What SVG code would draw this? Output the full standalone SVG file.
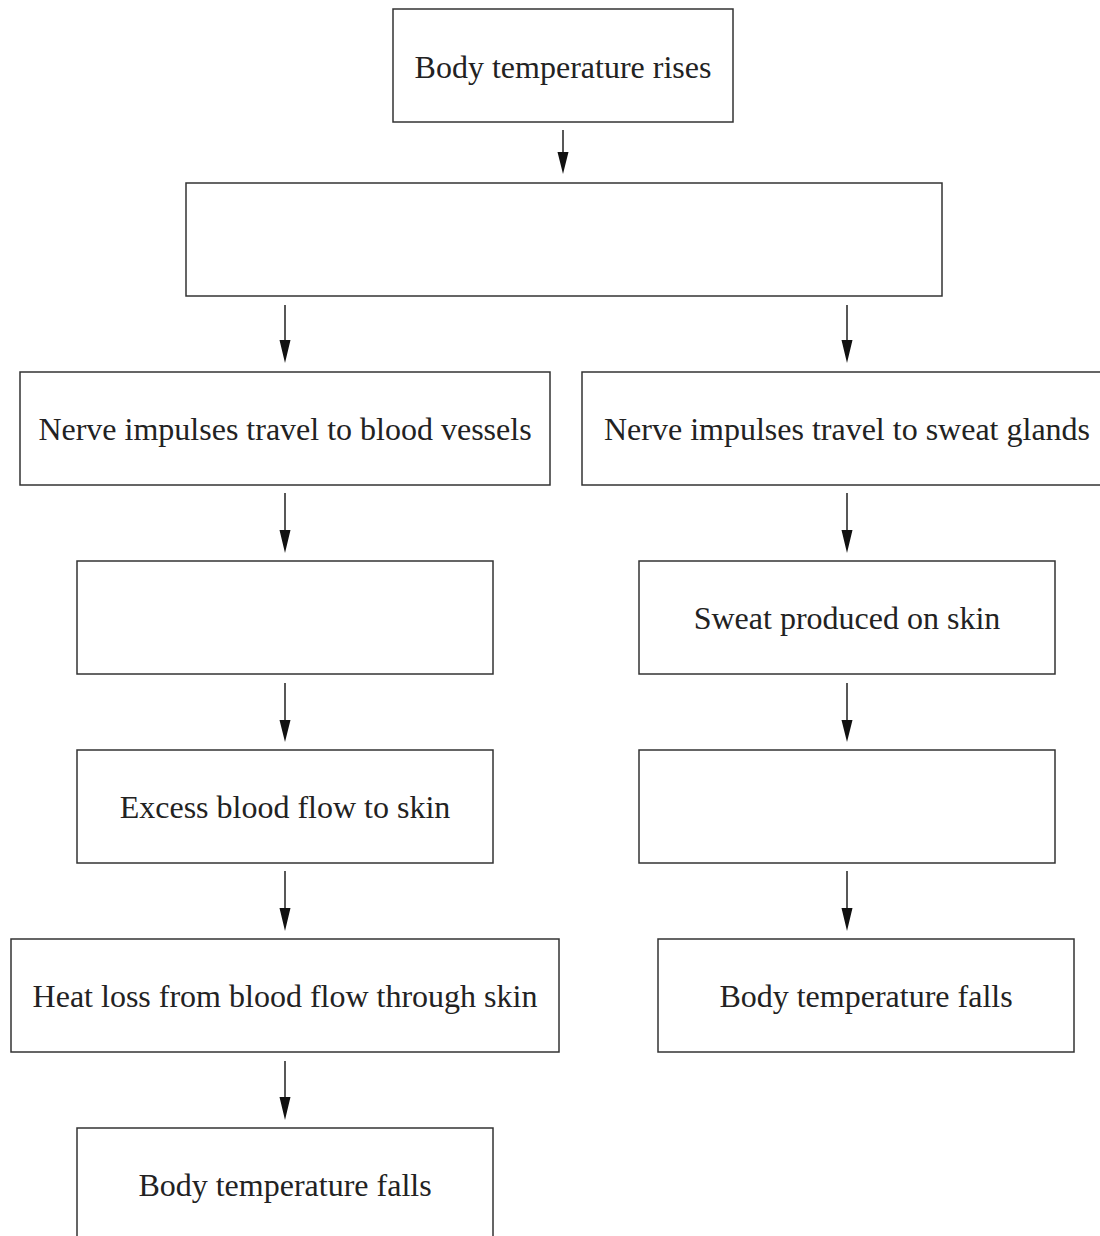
<svg xmlns="http://www.w3.org/2000/svg" width="1100" height="1236" viewBox="0 0 1100 1236">
<style>
.box{fill:#fff;stroke:#333;stroke-width:1.5}
.t{font-family:"Liberation Serif","Times New Roman",serif;font-size:32px;fill:#222;text-anchor:middle;dominant-baseline:middle}
.ln{stroke:#222;stroke-width:1.5;fill:none}
.hd{fill:#111}
</style>
<rect width="1100" height="1236" fill="#fff"/>
<g id="connectors">
<path class="ln" d="M563,130 V152 M285,305 V340 M847,305 V340 M285,493 V530 M847,493 V530 M285,683 V720 M847,683 V720 M285,871 V908 M847,871 V908 M285,1061 V1097"/>
<path class="hd" d="M557.5,152 L568.5,152 L563,174 Z M279.5,340 L290.5,340 L285,363 Z M841.5,340 L852.5,340 L847,363 Z M279.5,530 L290.5,530 L285,553 Z M841.5,530 L852.5,530 L847,553 Z M279.5,720 L290.5,720 L285,742 Z M841.5,720 L852.5,720 L847,742 Z M279.5,908 L290.5,908 L285,931 Z M841.5,908 L852.5,908 L847,931 Z M279.5,1097 L290.5,1097 L285,1120 Z"/>
</g>
<g id="n-rises"><rect class="box" x="393" y="9" width="340" height="113"/><text class="t" x="563" y="71">Body temperature rises</text></g>
<g id="n-blank1"><rect class="box" x="186" y="183" width="756" height="113"/></g>
<g id="n-nerve-blood"><rect class="box" x="20" y="372" width="530" height="113"/><text class="t" x="285" y="433">Nerve impulses travel to blood vessels</text></g>
<g id="n-nerve-sweat"><rect class="box" x="582" y="372" width="530" height="113"/><text class="t" x="847" y="433">Nerve impulses travel to sweat glands</text></g>
<g id="n-blank2"><rect class="box" x="77" y="561" width="416" height="113"/></g>
<g id="n-sweat"><rect class="box" x="639" y="561" width="416" height="113"/><text class="t" x="847" y="622">Sweat produced on skin</text></g>
<g id="n-excess"><rect class="box" x="77" y="750" width="416" height="113"/><text class="t" x="285" y="811">Excess blood flow to skin</text></g>
<g id="n-blank3"><rect class="box" x="639" y="750" width="416" height="113"/></g>
<g id="n-heatloss"><rect class="box" x="11" y="939" width="548" height="113"/><text class="t" x="285" y="1000">Heat loss from blood flow through skin</text></g>
<g id="n-falls-right"><rect class="box" x="658" y="939" width="416" height="113"/><text class="t" x="866" y="1000">Body temperature falls</text></g>
<g id="n-falls-left"><rect class="box" x="77" y="1128" width="416" height="140"/><text class="t" x="285" y="1189">Body temperature falls</text></g>
</svg>
